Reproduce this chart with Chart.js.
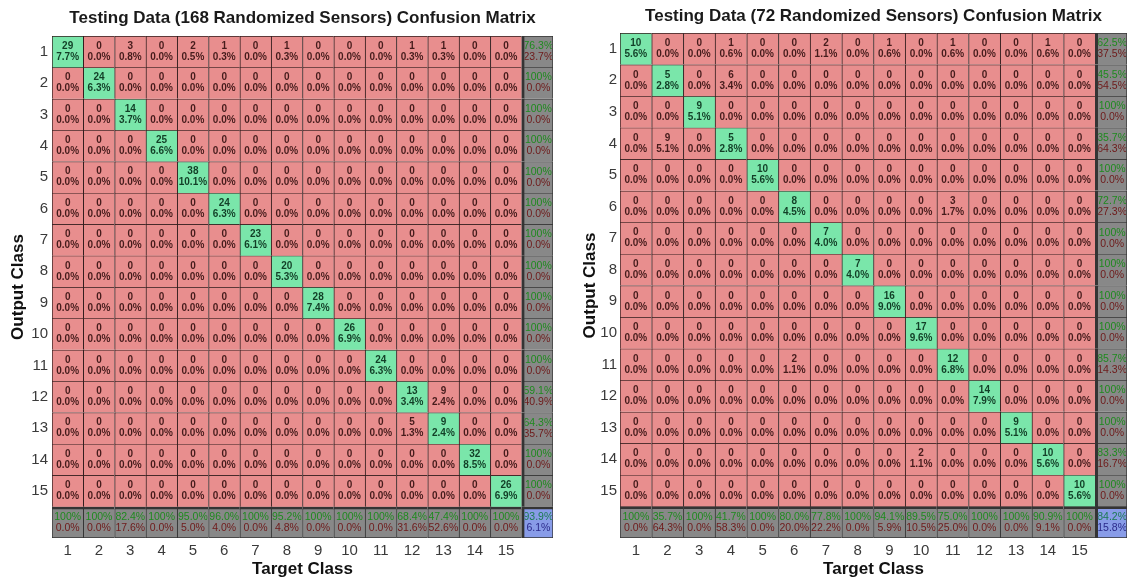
<!DOCTYPE html>
<html>
<head>
<meta charset="utf-8">
<script src="https://cdn.jsdelivr.net/npm/chart.js@4.4.1/dist/chart.umd.min.js"></script>
<style>
  html, body { margin: 0; padding: 0; background: #ffffff; }
  #wrap { position: relative; width: 1129px; height: 585px; overflow: hidden; }
  canvas { position: absolute; top: 0; }
  #c1 { left: 0; }
  #c2 { left: 565px; }
</style>
</head>
<body>
<div id="wrap">
  <canvas id="c1" width="565" height="585"></canvas>
  <canvas id="c2" width="564" height="585"></canvas>
</div>
<script>
// Class labels along both axes
const targetClasses = ['1','2','3','4','5','6','7','8','9','10','11','12','13','14','15'];
const outputClasses = ['1','2','3','4','5','6','7','8','9','10','11','12','13','14','15'];

// Confusion counts: one row per output class, one column per target class
const testing168 = [
  [29, 0, 3, 0, 2, 1, 0, 1, 0, 0, 0, 1, 1, 0, 0],
  [ 0,24, 0, 0, 0, 0, 0, 0, 0, 0, 0, 0, 0, 0, 0],
  [ 0, 0,14, 0, 0, 0, 0, 0, 0, 0, 0, 0, 0, 0, 0],
  [ 0, 0, 0,25, 0, 0, 0, 0, 0, 0, 0, 0, 0, 0, 0],
  [ 0, 0, 0, 0,38, 0, 0, 0, 0, 0, 0, 0, 0, 0, 0],
  [ 0, 0, 0, 0, 0,24, 0, 0, 0, 0, 0, 0, 0, 0, 0],
  [ 0, 0, 0, 0, 0, 0,23, 0, 0, 0, 0, 0, 0, 0, 0],
  [ 0, 0, 0, 0, 0, 0, 0,20, 0, 0, 0, 0, 0, 0, 0],
  [ 0, 0, 0, 0, 0, 0, 0, 0,28, 0, 0, 0, 0, 0, 0],
  [ 0, 0, 0, 0, 0, 0, 0, 0, 0,26, 0, 0, 0, 0, 0],
  [ 0, 0, 0, 0, 0, 0, 0, 0, 0, 0,24, 0, 0, 0, 0],
  [ 0, 0, 0, 0, 0, 0, 0, 0, 0, 0, 0,13, 9, 0, 0],
  [ 0, 0, 0, 0, 0, 0, 0, 0, 0, 0, 0, 5, 9, 0, 0],
  [ 0, 0, 0, 0, 0, 0, 0, 0, 0, 0, 0, 0, 0,32, 0],
  [ 0, 0, 0, 0, 0, 0, 0, 0, 0, 0, 0, 0, 0, 0,26]
];

const testing72 = [
  [10, 0, 0, 1, 0, 0, 2, 0, 1, 0, 1, 0, 0, 1, 0],
  [ 0, 5, 0, 6, 0, 0, 0, 0, 0, 0, 0, 0, 0, 0, 0],
  [ 0, 0, 9, 0, 0, 0, 0, 0, 0, 0, 0, 0, 0, 0, 0],
  [ 0, 9, 0, 5, 0, 0, 0, 0, 0, 0, 0, 0, 0, 0, 0],
  [ 0, 0, 0, 0,10, 0, 0, 0, 0, 0, 0, 0, 0, 0, 0],
  [ 0, 0, 0, 0, 0, 8, 0, 0, 0, 0, 3, 0, 0, 0, 0],
  [ 0, 0, 0, 0, 0, 0, 7, 0, 0, 0, 0, 0, 0, 0, 0],
  [ 0, 0, 0, 0, 0, 0, 0, 7, 0, 0, 0, 0, 0, 0, 0],
  [ 0, 0, 0, 0, 0, 0, 0, 0,16, 0, 0, 0, 0, 0, 0],
  [ 0, 0, 0, 0, 0, 0, 0, 0, 0,17, 0, 0, 0, 0, 0],
  [ 0, 0, 0, 0, 0, 2, 0, 0, 0, 0,12, 0, 0, 0, 0],
  [ 0, 0, 0, 0, 0, 0, 0, 0, 0, 0, 0,14, 0, 0, 0],
  [ 0, 0, 0, 0, 0, 0, 0, 0, 0, 0, 0, 0, 9, 0, 0],
  [ 0, 0, 0, 0, 0, 0, 0, 0, 0, 2, 0, 0, 0,10, 0],
  [ 0, 0, 0, 0, 0, 0, 0, 0, 0, 0, 0, 0, 0, 0,10]
];

const FONT = '"Liberation Sans", Arial, Helvetica, sans-serif';
const COLORS = {
  hit:  'rgb(122,230,170)',
  miss: 'rgb(232,142,142)',
  sum:  'rgb(136,136,136)',
  all:  'rgb(136,156,232)',
  line: 'rgb(48,28,28)',
  sep:  'rgb(52,52,52)'
};

const fmtPct = v => (v === 100 ? '100%' : v.toFixed(1) + '%');

// Turn a count matrix into per-cell kinds and text (with the summary row/column)
function buildCells(counts) {
  const n = counts.length;
  let total = 0, correct = 0;
  counts.forEach((row, r) => row.forEach((v, c) => { total += v; if (r === c) correct += v; }));
  const cells = [];
  for (let r = 0; r <= n; r++) {
    const row = [];
    for (let c = 0; c <= n; c++) {
      if (r < n && c < n) {
        const v = counts[r][c];
        row.push({ kind: r === c ? 'hit' : 'miss', top: String(v), bottom: fmtPct(v / total * 100) });
      } else if (r < n) {
        const s = counts[r].reduce((a, b) => a + b, 0);
        const p = counts[r][r] / s * 100;
        row.push({ kind: 'sum', top: fmtPct(p), bottom: fmtPct(100 - p) });
      } else if (c < n) {
        let s = 0; for (let k = 0; k < n; k++) s += counts[k][c];
        const p = counts[c][c] / s * 100;
        row.push({ kind: 'sum', top: fmtPct(p), bottom: fmtPct(100 - p) });
      } else {
        const p = correct / total * 100;
        row.push({ kind: 'all', top: fmtPct(p), bottom: fmtPct(100 - p) });
      }
    }
    cells.push(row);
  }
  return cells;
}

function makeMatrix(canvasId, counts, titleText, geom) {
  const n = counts.length;
  const cells = buildCells(counts);
  const xLabels = targetClasses.concat(['']);
  const isPlain = k => k === 'hit' || k === 'miss';

  // one floating-bar dataset per matrix row, spanning [r, r+1] on the row axis
  const datasets = cells.map((row, r) => ({
    data: row.map(() => [r, r + 1]),
    grouped: false,
    barPercentage: 1,
    categoryPercentage: 1,
    borderSkipped: false,
    backgroundColor: ctx => COLORS[cells[ctx.datasetIndex][ctx.dataIndex].kind],
    borderColor: ctx => isPlain(cells[ctx.datasetIndex][ctx.dataIndex].kind) ? COLORS.line : COLORS.sep,
    borderWidth: ctx => {
      const rr = ctx.datasetIndex, cc = ctx.dataIndex;
      return {
        top: rr === n ? 3 : 1,
        left: cc === n ? 3 : 1,
        right: cc === n ? 1 : 0,
        bottom: rr === n ? 1 : 0
      };
    }
  }));

  const cellText = {
    id: 'cellText',
    afterDatasetsDraw(chart) {
      const ctx = chart.ctx;
      ctx.save();
      ctx.textAlign = 'center';
      ctx.textBaseline = 'middle';
      chart.data.datasets.forEach((ds, r) => {
        const meta = chart.getDatasetMeta(r);
        meta.data.forEach((el, c) => {
          const { x, y, base, width } = el.getProps(['x', 'y', 'base', 'width'], true);
          const cy = (y + base) / 2;
          const cell = cells[r][c];
          if (isPlain(cell.kind)) {
            ctx.font = 'bold 10px ' + FONT;
            ctx.fillStyle = cell.kind === 'hit' ? '#123f27' : '#461c1c';
            ctx.fillText(cell.top, x, cy - 5.5);
            ctx.fillText(cell.bottom, x, cy + 5.5);
          } else {
            // summary text is kept inside its own cell
            ctx.save();
            ctx.beginPath();
            const l = x - width / 2 + (c === n ? 3 : 1);
            const t = Math.min(y, base) + (r === n ? 3 : 1);
            ctx.rect(l, t, x + width / 2 - l - 1, Math.abs(base - y) - (t - Math.min(y, base)) - 1);
            ctx.clip();
            ctx.font = '10.5px ' + FONT;
            ctx.fillStyle = cell.kind === 'all' ? '#1c7a52' : '#1f8a1f';
            ctx.fillText(cell.top, x + (c === n ? 1 : 0), cy - 5.5);
            ctx.fillStyle = cell.kind === 'all' ? '#2a2a8a' : '#6e1a1a';
            ctx.fillText(cell.bottom, x + (c === n ? 1 : 0), cy + 5.5);
            ctx.restore();
          }
        });
      });
      ctx.restore();
    }
  };

  return new Chart(document.getElementById(canvasId), {
    type: 'bar',
    data: { labels: xLabels, datasets },
    plugins: [cellText],
    options: {
      responsive: false,
      animation: false,
      events: [],
      layout: { padding: { left: 0, right: geom.padRight, top: 0, bottom: 0 } },
      plugins: {
        legend: { display: false },
        tooltip: { enabled: false },
        title: {
          display: true,
          text: titleText,
          fullSize: false,
          color: '#1a1a1a',
          font: { family: FONT, size: 17, weight: 'bold' },
          padding: { top: geom.titleTop, bottom: geom.titleBottom }
        }
      },
      scales: {
        x: {
          type: 'category',
          offset: true,
          grid: { display: false, drawTicks: false },
          border: { display: false },
          ticks: {
            autoSkip: false, maxRotation: 0, padding: 4,
            color: '#3a3a3a', font: { family: FONT, size: 15 }
          },
          title: {
            display: true, text: 'Target Class', color: '#111',
            font: { family: FONT, size: 17, weight: 'bold' },
            padding: { top: 0, bottom: 5 }
          },
          afterFit: axis => { axis.height = 47; }
        },
        y: {
          type: 'linear',
          min: 0, max: n + 1,
          reverse: true,
          grid: { display: false, drawTicks: false },
          border: { display: false },
          afterBuildTicks: axis => { axis.ticks = outputClasses.map((_, i) => ({ value: i + 0.5 })); },
          ticks: {
            padding: geom.yTickPad,
            color: '#3a3a3a', font: { family: FONT, size: 15 },
            callback: (v, i) => outputClasses[i]
          },
          title: {
            display: true, text: 'Output Class', color: '#111',
            font: { family: FONT, size: 17, weight: 'bold' },
            padding: { top: geom.yTitlePad, bottom: 0 }
          },
          afterFit: axis => { axis.width = geom.yWidth; }
        }
      }
    }
  });
}

makeMatrix('c1', testing168, 'Testing Data (168 Randomized Sensors) Confusion Matrix',
  { yWidth: 52, yTitlePad: 8, yTickPad: 4, padRight: 12, titleTop: 8, titleBottom: 7.6 });
makeMatrix('c2', testing72, 'Testing Data (72 Randomized Sensors) Confusion Matrix',
  { yWidth: 55, yTitlePad: 15, yTickPad: 3, padRight: 2, titleTop: 6, titleBottom: 6.6 });
</script>
</body>
</html>
